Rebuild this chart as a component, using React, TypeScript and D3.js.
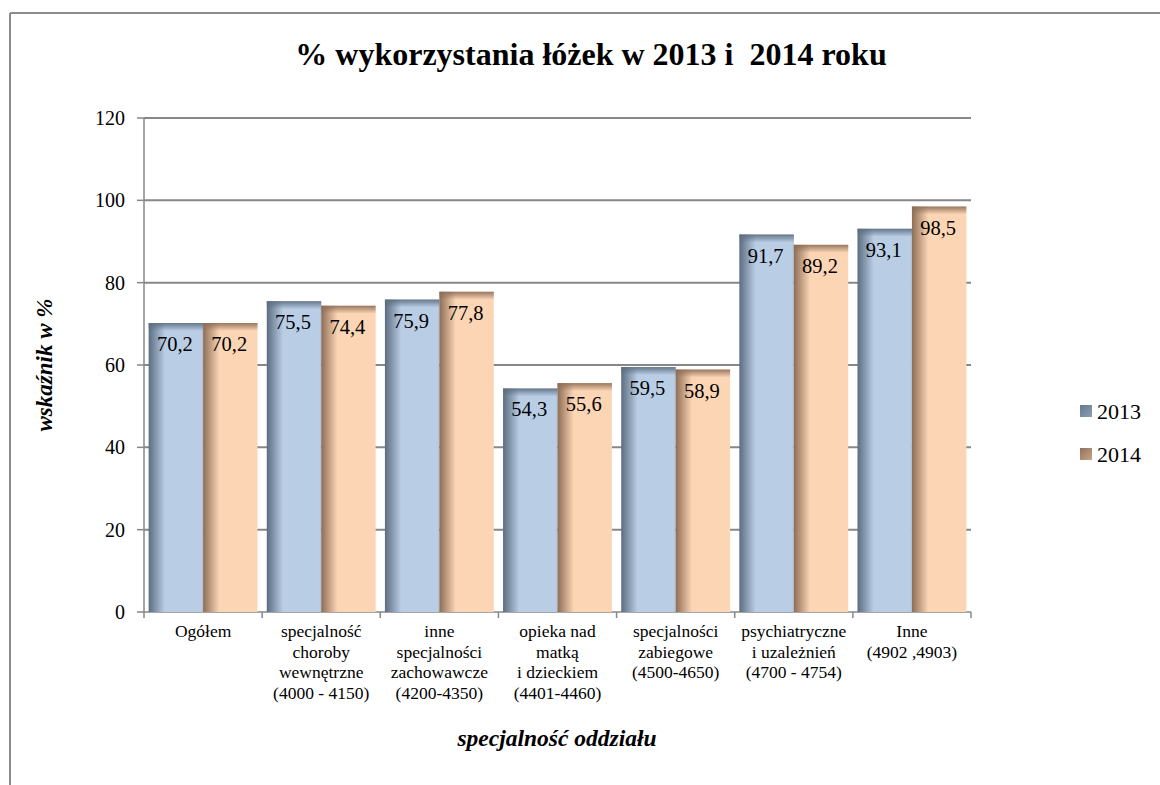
import React from "react";
import * as d3 from "d3";

const categories = [
  ["Ogółem"],
  ["specjalność", "choroby", "wewnętrzne", "(4000 - 4150)"],
  ["inne", "specjalności", "zachowawcze", "(4200-4350)"],
  ["opieka nad", "matką", "i dzieckiem", "(4401-4460)"],
  ["specjalności", "zabiegowe", "(4500-4650)"],
  ["psychiatryczne", "i uzależnień", "(4700 - 4754)"],
  ["Inne", "(4902 ,4903)"],
];
const values2013 = [70.2, 75.5, 75.9, 54.3, 59.5, 91.7, 93.1];
const values2014 = [70.2, 74.4, 77.8, 55.6, 58.9, 89.2, 98.5];
const seriesNames = ["2013", "2014"];
const yTicks = [0, 20, 40, 60, 80, 100, 120];

const font = "Liberation Serif";

export default function App() {
  const width = 1160;
  const height = 785;
  const plot = { left: 144, right: 971, top: 118, bottom: 612 };

  const x = d3
    .scaleBand<number>()
    .domain(d3.range(categories.length))
    .range([plot.left, plot.right]);
  const inner = d3
    .scaleBand<number>()
    .domain([0, 1])
    .range([0, x.bandwidth()])
    .paddingOuter(0.085)
    .paddingInner(0);
  const y = d3.scaleLinear().domain([0, 120]).range([plot.bottom, plot.top]);

  const series = [values2013, values2014];
  const fills = ["url(#side0)", "url(#side1)"];
  const tops = ["url(#top0)", "url(#top1)"];
  const legendFill = ["url(#leg0)", "url(#leg1)"];
  const fmt = (v: number) => v.toFixed(1).replace(".", ",");

  return (
    <svg
      width={width}
      height={height}
      fontFamily={font}
      style={{ position: "absolute", left: 0, top: 0, background: "#fff" }}
    >
      <defs>
        <linearGradient id="side0" x1="0" x2="1" y1="0" y2="0">
          <stop offset="0" stopColor="#5c6d80" />
          <stop offset="0.3" stopColor="#b9cde5" />
          <stop offset="0.97" stopColor="#b9cde5" />
          <stop offset="1" stopColor="#a9bcd3" />
        </linearGradient>
        <linearGradient id="side1" x1="0" x2="1" y1="0" y2="0">
          <stop offset="0" stopColor="#8d6d56" />
          <stop offset="0.3" stopColor="#fcd5b5" />
          <stop offset="1" stopColor="#fcd5b5" />
        </linearGradient>
        <linearGradient id="top0" x1="0" x2="0" y1="0" y2="1">
          <stop offset="0" stopColor="#5c6d80" stopOpacity="0.9" />
          <stop offset="1" stopColor="#5c6d80" stopOpacity="0" />
        </linearGradient>
        <linearGradient id="top1" x1="0" x2="0" y1="0" y2="1">
          <stop offset="0" stopColor="#8d6d56" stopOpacity="0.9" />
          <stop offset="1" stopColor="#8d6d56" stopOpacity="0" />
        </linearGradient>
        <linearGradient id="leg0" x1="0" x2="1" y1="0" y2="1">
          <stop offset="0" stopColor="#66788c" />
          <stop offset="1" stopColor="#8e9fb3" />
        </linearGradient>
        <linearGradient id="leg1" x1="0" x2="1" y1="0" y2="1">
          <stop offset="0" stopColor="#8f705a" />
          <stop offset="1" stopColor="#c7a587" />
        </linearGradient>
      </defs>

      {/* outer frame */}
      <line x1={10} x2={width} y1={13} y2={13} stroke="#8c8c8c" strokeWidth={2} />
      <line x1={10} x2={10} y1={13} y2={height} stroke="#8c8c8c" strokeWidth={2} />

      <text
        x={591}
        y={65}
        textAnchor="middle"
        fontFamily={font}
        fontSize={32}
        fontWeight="bold"
        style={{ whiteSpace: "pre" }}
      >
        {"% wykorzystania łóżek w 2013 i  2014 roku"}
      </text>

      {/* gridlines + y ticks */}
      {yTicks.map((t) => (
        <g key={t}>
          <line
            x1={plot.left}
            x2={plot.right}
            y1={y(t)}
            y2={y(t)}
            stroke="#878787"
            strokeWidth={t === 0 ? 1.5 : 2}
          />
          <line x1={plot.left - 7} x2={plot.left} y1={y(t)} y2={y(t)} stroke="#878787" strokeWidth={1.5} />
          <text x={125} y={y(t) + 7} textAnchor="end" fontFamily={font} fontSize={20}>
            {t}
          </text>
        </g>
      ))}
      <line x1={plot.left} x2={plot.left} y1={plot.top} y2={plot.bottom} stroke="#878787" strokeWidth={1.5} />

      {/* x ticks */}
      {d3.range(categories.length + 1).map((i) => {
        const xx = i < categories.length ? (x(i) as number) : plot.right;
        return (
          <line key={i} x1={xx} x2={xx} y1={plot.bottom} y2={plot.bottom + 6} stroke="#878787" strokeWidth={1.5} />
        );
      })}

      {/* bars */}
      {categories.map((_, i) =>
        series.map((vals, s) => {
          const bx = (x(i) as number) + (inner(s) as number);
          const bw = inner.bandwidth();
          const by = y(vals[i]);
          const bh = plot.bottom - by;
          return (
            <g key={`${i}-${s}`}>
              <rect x={bx} y={by} width={bw} height={bh} fill={fills[s]} />
              <rect x={bx} y={by} width={bw} height={8} fill={tops[s]} />
              <text x={bx + bw / 2 - 1} y={by + 28} textAnchor="middle" fontFamily={font} fontSize={20.5}>
                {fmt(vals[i])}
              </text>
            </g>
          );
        })
      )}

      {/* category labels */}
      {categories.map((lines, i) => (
        <text
          key={i}
          x={(x(i) as number) + x.bandwidth() / 2}
          y={637}
          textAnchor="middle"
          fontFamily={font}
          fontSize={17.5}
        >
          {lines.map((l, j) => (
            <tspan key={j} x={(x(i) as number) + x.bandwidth() / 2} dy={j === 0 ? 0 : 20.5}>
              {l}
            </tspan>
          ))}
        </text>
      ))}

      {/* axis titles */}
      <text
        x={557}
        y={746}
        textAnchor="middle"
        fontFamily={font}
        fontSize={23.5}
        fontWeight="bold"
        fontStyle="italic"
      >
        specjalność oddziału
      </text>
      <text
        transform={`translate(52, 365) rotate(-90)`}
        textAnchor="middle"
        fontFamily={font}
        fontSize={23}
        fontWeight="bold"
        fontStyle="italic"
      >
        wskaźnik w %
      </text>

      {/* legend */}
      {seriesNames.map((n, s) => (
        <g key={n} transform={`translate(1080, ${405 + s * 43})`}>
          <rect width={12} height={12} fill={legendFill[s]} />
          <text x={17} y={14} fontFamily={font} fontSize={22}>
            {n}
          </text>
        </g>
      ))}
    </svg>
  );
}
